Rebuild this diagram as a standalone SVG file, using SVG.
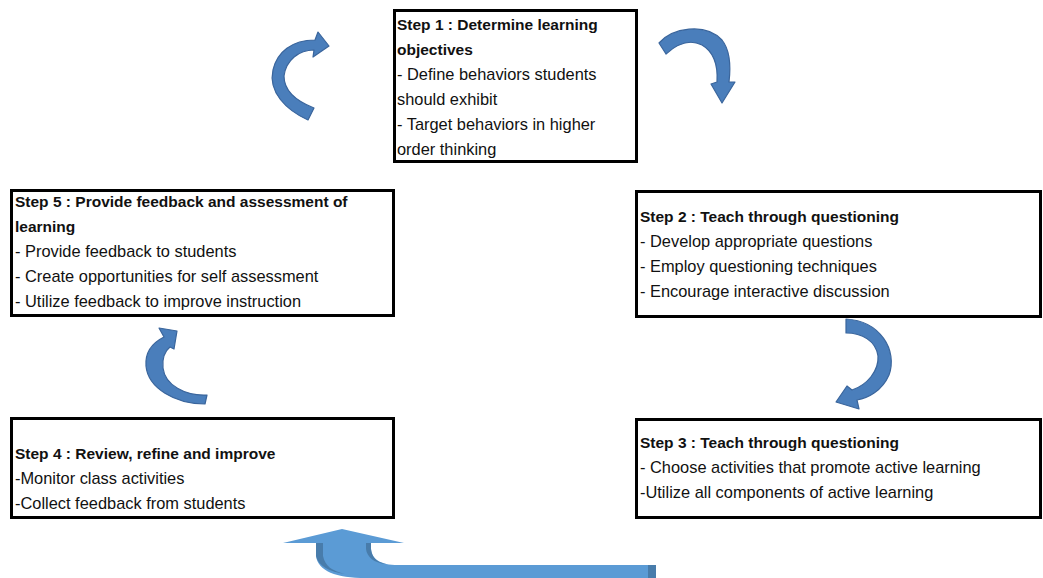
<svg xmlns="http://www.w3.org/2000/svg" width="1043" height="578" viewBox="0 0 1043 578">
  <style>
    .box { fill: #ffffff; stroke: #000000; stroke-width: 3; }
    .t { font-family: "Liberation Sans", Arial, sans-serif; font-size: 16.4px; fill: #111111; }
    .h { font-weight: bold; font-size: 15.5px; }
    .curve { fill: #4a7ebb; stroke: #3a659c; stroke-width: 1.2; stroke-linejoin: round; }
    .big { fill: #5b9bd5; }
    .shade { fill: #41719c; opacity: 0.75; }
  </style>

  <!-- connectors: curved arrows between steps -->
  <g id="connectors">
    <!-- step 5 -> step 1 -->
    <path class="curve" d="M308,120 C286,110 268,92 273,70 C277,52 292,40 315,40 L318,32 L329,46 L313,57 L314,50 C299,50 286,60 284,76 C284,90 296,101 314,108 Z"/>
    <!-- step 1 -> step 2 -->
    <path class="curve" d="M659,43 C672,28 705,22 722,40 C730,50 731,65 729,82 L735,82 L722,103 L711,84 L717,82 C718,66 714,52 702,45 C690,39 677,44 666,54 Z"/>
    <!-- step 2 -> step 3 -->
    <path class="curve" d="M846,319 C880,321 898,350 889,375 C882,391 868,398 857,400 L859,409 L836,402 L847,386 L852,390 C867,385 879,371 878,356 C876,341 862,333 846,333 Z"/>
    <!-- step 4 -> step 5 -->
    <path class="curve" d="M207,395 C185,396 165,385 163,368 C162,358 165,351 170,347 L174,349 L177,331 L159,328 L164,337 C152,343 145,353 146,366 C148,388 175,404 205,404 Z"/>
    <!-- step 3 -> step 4 -->
    <path class="big" d="M656,565 L398,565 C380,565 372,559 371,549 L371,543 L404,543 L342,529 L283,543 L316,543 L316,556 C318,571 336,578 366,578 L656,578 Z"/>
    <path class="shade" d="M316,543 L323,543 L323,556 C325,566 332,571 345,574 C330,572 318,566 316,556 Z"/>
    <path class="shade" d="M366,543 L371,543 L371,549 C372,557 376,562 386,564 C374,563 367,557 366,549 Z"/>
    <rect class="shade" x="648" y="565" width="8" height="13"/>
  </g>

  <g id="step1">
    <rect class="box" x="394.5" y="10.5" width="242" height="151"/>
    <text class="t h" x="397" y="30">Step 1 : Determine learning</text>
    <text class="t h" x="397" y="55">objectives</text>
    <text class="t" x="397" y="80">- Define behaviors students</text>
    <text class="t" x="397" y="105">should exhibit</text>
    <text class="t" x="397" y="130">- Target behaviors in higher</text>
    <text class="t" x="397" y="155">order thinking</text>
  </g>

  <g id="step2">
    <rect class="box" x="636.5" y="191.5" width="404" height="125"/>
    <text class="t h" x="640" y="222">Step 2 : Teach through questioning</text>
    <text class="t" x="640" y="247">- Develop appropriate questions</text>
    <text class="t" x="640" y="272">- Employ questioning techniques</text>
    <text class="t" x="640" y="297">- Encourage interactive discussion</text>
  </g>

  <g id="step3">
    <rect class="box" x="636.5" y="419.5" width="404" height="98"/>
    <text class="t h" x="640" y="448">Step 3 : Teach through questioning</text>
    <text class="t" x="640" y="473">- Choose activities that promote active learning</text>
    <text class="t" x="640" y="498">-Utilize all components of active learning</text>
  </g>

  <g id="step4">
    <rect class="box" x="11.5" y="418.5" width="382" height="99"/>
    <text class="t h" x="15" y="459">Step 4 : Review, refine and improve</text>
    <text class="t" x="15" y="484">-Monitor class activities</text>
    <text class="t" x="15" y="509">-Collect feedback from students</text>
  </g>

  <g id="step5">
    <rect class="box" x="11.5" y="190.5" width="382" height="125"/>
    <text class="t h" x="15" y="207">Step 5 : Provide feedback and assessment of</text>
    <text class="t h" x="15" y="232">learning</text>
    <text class="t" x="15" y="257">- Provide feedback to students</text>
    <text class="t" x="15" y="282">- Create opportunities for self assessment</text>
    <text class="t" x="15" y="307">- Utilize feedback to improve instruction</text>
  </g>
</svg>
